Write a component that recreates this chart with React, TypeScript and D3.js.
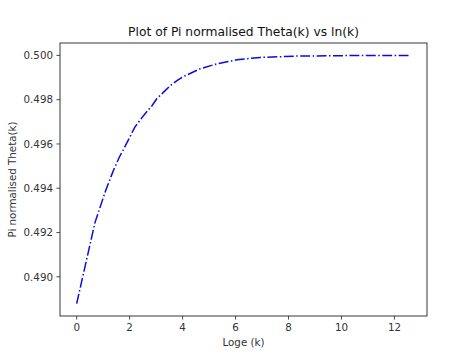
import React from "react";
import * as d3 from "d3";

const lnK = [0, 0.693, 1.099, 1.386, 1.609, 1.792, 2.197, 2.53, 2.85, 3.03, 3.35, 3.54, 3.8, 4.04, 4.67, 5.3, 6.05, 6.93, 8.32, 10.0, 12.6];
const theta = [0.48879, 0.49246, 0.49391, 0.4948, 0.4954, 0.49581, 0.49676, 0.49729, 0.49774, 0.49805, 0.49842, 0.49864, 0.49887, 0.49905, 0.4994, 0.49962, 0.4998, 0.49991, 0.49997, 0.49999, 0.5];
const xTicks = [0, 2, 4, 6, 8, 10, 12];
const yTicks = [0.49, 0.492, 0.494, 0.496, 0.498, 0.5];

const W = 474, H = 355;
const L = 60, R = 427, T = 43, B = 316;
const FONT = "DejaVu Sans, sans-serif";

export default function App() {
  const xMin = d3.min(lnK)!, xMax = d3.max(lnK)!;
  const yMin = d3.min(theta)!, yMax = d3.max(theta)!;
  const xp = (xMax - xMin) * 0.05, yp = (yMax - yMin) * 0.05;
  const x = d3.scaleLinear().domain([xMin - xp, xMax + xp]).range([L, R]);
  const y = d3.scaleLinear().domain([yMin - yp, yMax + yp]).range([B, T]);
  const pts = lnK.map((v, i) => [v, theta[i]] as [number, number]);
  const line = d3.line<[number, number]>().x(d => x(d[0])).y(d => y(d[1]));
  const tc = "#333";
  return (
    <svg width={W} height={H} style={{ position: "absolute", left: 0, top: 0, background: "#fff" }} fontFamily={FONT}>
      <rect x={0} y={0} width={W} height={H} fill="#fff" />
      <path d={line(pts)!} fill="none" stroke="#0b0be0" strokeWidth={1.5} strokeDasharray="9.9,2.5,1.5,2.5" />
      <rect x={L} y={T} width={R - L} height={B - T} fill="none" stroke="#222" strokeWidth={0.9} />
      {xTicks.map(t => (
        <g key={"x" + t}>
          <line x1={x(t)} x2={x(t)} y1={B} y2={B + 3.6} stroke="#222" strokeWidth={0.8} />
          <text x={x(t)} y={B + 15} textAnchor="middle" fontSize={10.3} fill={tc}>{t}</text>
        </g>
      ))}
      {yTicks.map(t => (
        <g key={"y" + t}>
          <line x1={L - 3.6} x2={L} y1={y(t)} y2={y(t)} stroke="#222" strokeWidth={0.8} />
          <text x={L - 7} y={y(t) + 3.8} textAnchor="end" fontSize={10.3} fill={tc}>{t.toFixed(3)}</text>
        </g>
      ))}
      <text x={(L + R) / 2} y={346} textAnchor="middle" fontSize={10.3} fill={tc}>Loge (k)</text>
      <text transform={`translate(16,${(T + B) / 2}) rotate(-90)`} textAnchor="middle" fontSize={10.3} fill={tc}>Pi normalised Theta(k)</text>
      <text x={(L + R) / 2} y={36} textAnchor="middle" fontSize={12.3} fill="#111">Plot of Pi normalised Theta(k) vs ln(k)</text>
    </svg>
  );
}
